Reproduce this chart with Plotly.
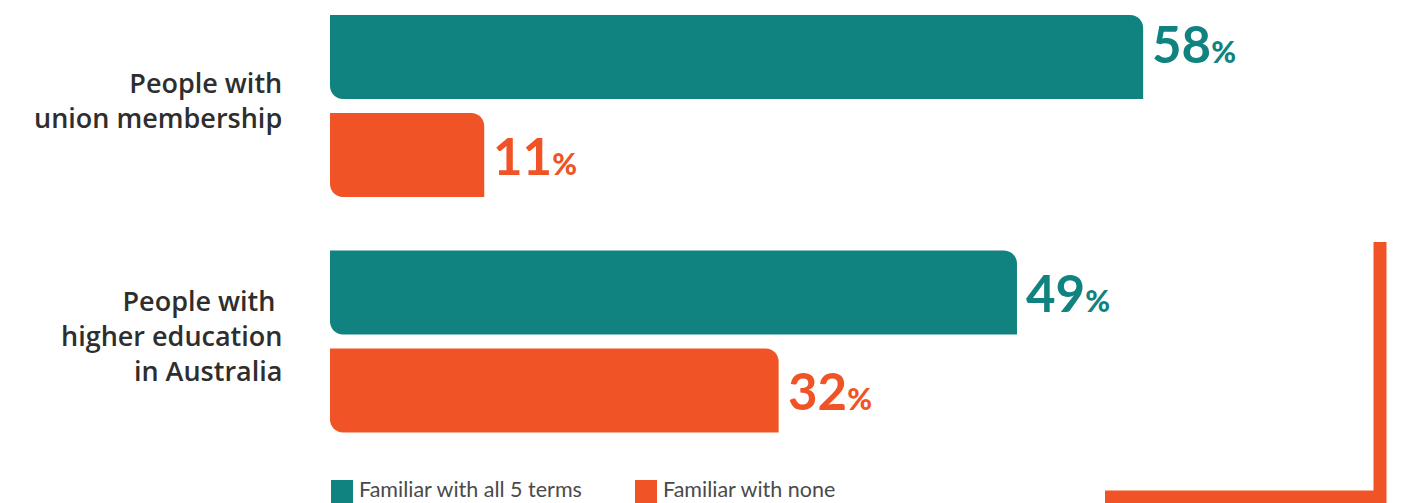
import plotly.graph_objects as go

# Survey groups and the share of each that is familiar with the terms
groups = ["People with<br>union membership", "People with <br>higher education<br>in Australia"]
all_five = [58, 49]      # Familiar with all 5 terms (%)
none_of_them = [11, 32]  # Familiar with none (%)
series_names = ["Familiar with all 5 terms", "Familiar with none"]

TEAL = "#10827F"
ORANGE = "#F05426"
W, H = 1404, 503

# Plot geometry (pixels)
X0_PX = 330
PX_PER_PCT = 14.02
X_MAX = (W - X0_PX) / PX_PER_PCT
GROUP_PX = 235.5          # pixel distance between group centres
FIRST_GROUP_PX = 106      # pixel y of first group centre
Y_TOP = -FIRST_GROUP_PX / GROUP_PX
Y_BOT = Y_TOP + H / GROUP_PX
OFFSET = 49 / GROUP_PX    # half distance between the two bars of a group
HALF_H = 42 / GROUP_PX    # half bar height
RADIUS_PX = 13

fig = go.Figure()


def bar_path(value, yc):
    """Bar with rounded top-right and bottom-left corners, in data units."""
    rx = RADIUS_PX / PX_PER_PCT
    ry = RADIUS_PX / GROUP_PX
    k = 0.5523
    top, bot = yc - HALF_H, yc + HALF_H
    return (
        f"M 0,{top} L {value - rx},{top} "
        f"C {value - rx + k * rx},{top} {value},{top + ry - k * ry} {value},{top + ry} "
        f"L {value},{bot} L {rx},{bot} "
        f"C {rx - k * rx},{bot} 0,{bot - ry + k * ry} 0,{bot - ry} Z"
    )


shapes = []
annotations = []
label_font = dict(family="Open Sans, Lato, sans-serif", size=27, color="#2e2e2e", weight=600)

for i, name in enumerate(groups):
    for j, (vals, color) in enumerate(((all_five, TEAL), (none_of_them, ORANGE))):
        v = vals[i]
        yc = i + (-OFFSET if j == 0 else OFFSET)
        shapes.append(dict(type="path", xref="x", yref="y", path=bar_path(v, yc),
                           fillcolor=color, line=dict(width=0), layer="above"))
        annotations.append(dict(
            x=v, y=yc, xref="x", yref="y", xanchor="left", yanchor="middle",
            xshift=7, yshift=14 if (i == 0 and j == 0) else 0, showarrow=False,
            text=f"<b>{v}</b><span style='font-size:30px'>%</span>",
            font=dict(family="Lato, Open Sans, sans-serif", size=51, color=color, weight=900),
        ))
    annotations.append(dict(
        x=284 / W, y=i - 0.025, xref="paper", yref="y", xanchor="right", yanchor="middle",
        align="right", showarrow=False, text=name, font=label_font,
    ))

# Legend drawn along the bottom edge
legend_items = [(series_names[0], TEAL, 331), (series_names[1], ORANGE, 635)]
for label, color, px in legend_items:
    shapes.append(dict(type="rect", xref="paper", yref="paper",
                       x0=px / W, x1=(px + 22) / W, y0=(H - 503) / H - 0.01, y1=(H - 480) / H,
                       fillcolor=color, line=dict(width=0)))
    annotations.append(dict(
        x=(px + 27) / W, y=0, xref="paper", yref="paper",
        xanchor="left", yanchor="bottom", showarrow=False, text=label, borderpad=0,
        font=dict(family="Lato, Open Sans, sans-serif", size=21.5, color="#4a4a4a"),
    ))

# Decorative corner bracket at the lower right
shapes.append(dict(type="path", xref="paper", yref="paper",
                   path=(f"M {1105 / W},{(H - 497) / H} L {1380 / W},{(H - 497) / H} "
                         f"L {1380 / W},{(H - 242) / H}"),
                   line=dict(color=ORANGE, width=13)))

fig.update_layout(
    width=W, height=H,
    margin=dict(l=0, r=0, t=0, b=0),
    paper_bgcolor="white", plot_bgcolor="white",
    showlegend=False,
    shapes=shapes, annotations=annotations,
    xaxis=dict(domain=[X0_PX / W, 1], range=[0, X_MAX], visible=False, fixedrange=True),
    yaxis=dict(range=[Y_BOT, Y_TOP], visible=False, fixedrange=True),
)

fig.write_html("out.html")
